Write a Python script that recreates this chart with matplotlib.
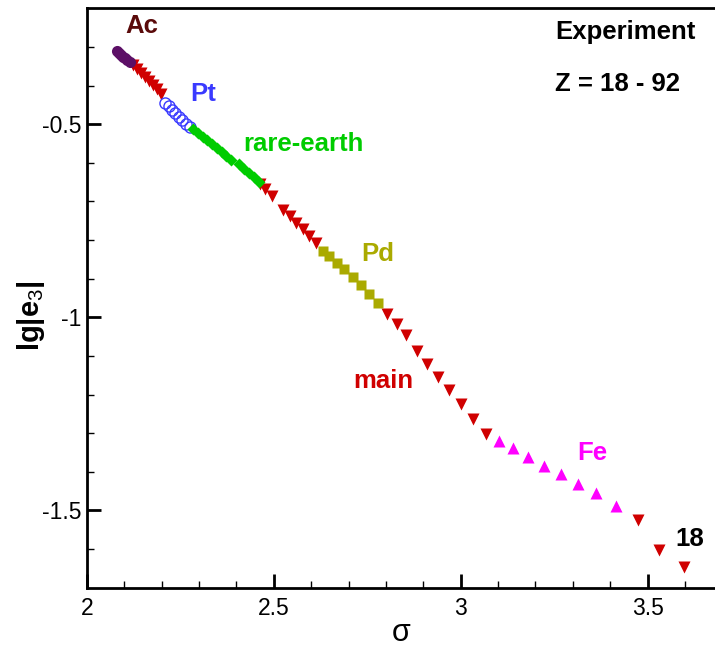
import numpy as np
import matplotlib.pyplot as plt

plt.rcParams['font.family'] = ['Liberation Sans', 'DejaVu Sans']
plt.rcParams['mathtext.fontset'] = 'custom'
plt.rcParams['mathtext.rm'] = 'Liberation Sans'

# Данные: sigma и lg|e3|
ac_x = [2.081, 2.086, 2.092, 2.097, 2.102, 2.108, 2.116]
ac_y = [-0.310, -0.315, -0.320, -0.326, -0.330, -0.333, -0.339]

pt_x = [2.209, 2.219, 2.228, 2.237, 2.247, 2.256, 2.266, 2.276]
pt_y = [-0.445, -0.454, -0.463, -0.472, -0.481, -0.490, -0.499, -0.507]

re_x = [2.284, 2.297, 2.310, 2.322, 2.335, 2.348, 2.361, 2.373, 2.386,
        2.407, 2.421, 2.434, 2.447, 2.461]
re_y = [-0.512, -0.522, -0.532, -0.542, -0.552, -0.562, -0.573, -0.582, -0.592,
        -0.603, -0.615, -0.626, -0.638, -0.649]

pd_x = [2.632, 2.648, 2.669, 2.688, 2.712, 2.733, 2.755, 2.779]
pd_y = [-0.828, -0.841, -0.859, -0.875, -0.896, -0.916, -0.939, -0.963]

fe_x = [3.102, 3.139, 3.180, 3.222, 3.268, 3.313, 3.362, 3.415]
fe_y = [-1.320, -1.339, -1.362, -1.385, -1.406, -1.432, -1.455, -1.489]

main_x = [2.124, 2.134, 2.145, 2.156, 2.167, 2.177, 2.188, 2.199,
          2.464, 2.477, 2.496,
          2.525, 2.544, 2.560, 2.578, 2.594, 2.613,
          2.803, 2.830, 2.854, 2.883, 2.910, 2.939, 2.969, 3.001, 3.033, 3.068,
          3.474, 3.530, 3.598]
main_y = [-0.346, -0.357, -0.367, -0.377, -0.388, -0.398, -0.409, -0.421,
          -0.655, -0.668, -0.686,
          -0.722, -0.738, -0.756, -0.771, -0.789, -0.807,
          -0.991, -1.017, -1.046, -1.087, -1.121, -1.154, -1.188, -1.224, -1.263, -1.302,
          -1.525, -1.603, -1.647]

fig = plt.figure(figsize=(7.15, 6.47), dpi=100)
ax = fig.add_axes([0.1213, 0.0917, 0.8787, 0.8955])

ax.plot(main_x, main_y, 'v', color='#d00000', ms=8.5, mec='none')
ax.plot(ac_x, ac_y, 'o', color='#5c0f66', ms=8, mec='none')
ax.plot(pt_x, pt_y, 'o', mfc='none', mec='#3a3aff', mew=1.0, ms=8)
ax.plot(re_x, re_y, 'D', color='#00cc00', ms=6.5, mec='none')
ax.plot(pd_x, pd_y, 's', color='#aaaa00', ms=7.5, mec='none')
ax.plot(fe_x, fe_y, '^', color='#ff00ff', ms=8.5, mec='none')

# Подписи групп
tkw = dict(fontsize=18.5, fontweight='bold', ha='center', va='center')
ax.text(2.148, -0.245, 'Ac', color='#5a0a0a', **tkw)
ax.text(2.311, -0.422, 'Pt', color='#3a3aff', **tkw)
ax.text(2.579, -0.551, 'rare-earth', color='#00cc00', **tkw)
ax.text(2.779, -0.836, 'Pd', color='#aaaa00', **tkw)
ax.text(2.792, -1.165, 'main', color='#d00000', **tkw)
ax.text(3.351, -1.352, 'Fe', color='#ff00ff', **tkw)
ax.text(3.613, -1.575, '18', color='black', **tkw)
ax.text(3.440, -0.261, 'Experiment', color='black', **tkw)
ax.text(3.418, -0.396, 'Z = 18 - 92', color='black', **tkw)

ax.set_xlim(2, 3.68)
ax.set_ylim(-1.7, -0.2)
ax.set_xticks([2, 2.5, 3, 3.5])
ax.set_xticklabels(['2', '2.5', '3', '3.5'])
ax.set_yticks([-1.5, -1, -0.5])
ax.set_yticklabels(['-1.5', '-1', '-0.5'])
ax.set_xticks(np.arange(2.1, 3.7, 0.1), minor=True)
ax.set_yticks(np.arange(-1.6, -0.2, 0.1), minor=True)
ax.tick_params(which='both', direction='in', labelsize=16.5)
ax.tick_params(which='major', length=10, width=2)
ax.tick_params(which='minor', length=5, width=1)
ax.tick_params(axis='x', pad=7)
ax.spines['right'].set_visible(False)
for s in ['left', 'bottom', 'top']:
    ax.spines[s].set_linewidth(2)

ax.set_xlabel('σ', fontsize=22, labelpad=-2)
fig.text(31 / 715, 1 - 316 / 647, 'lg|e$_3$|', fontsize=21, fontweight='bold',
         rotation=90, ha='center', va='center')

fig.savefig('out.png', dpi=100)
